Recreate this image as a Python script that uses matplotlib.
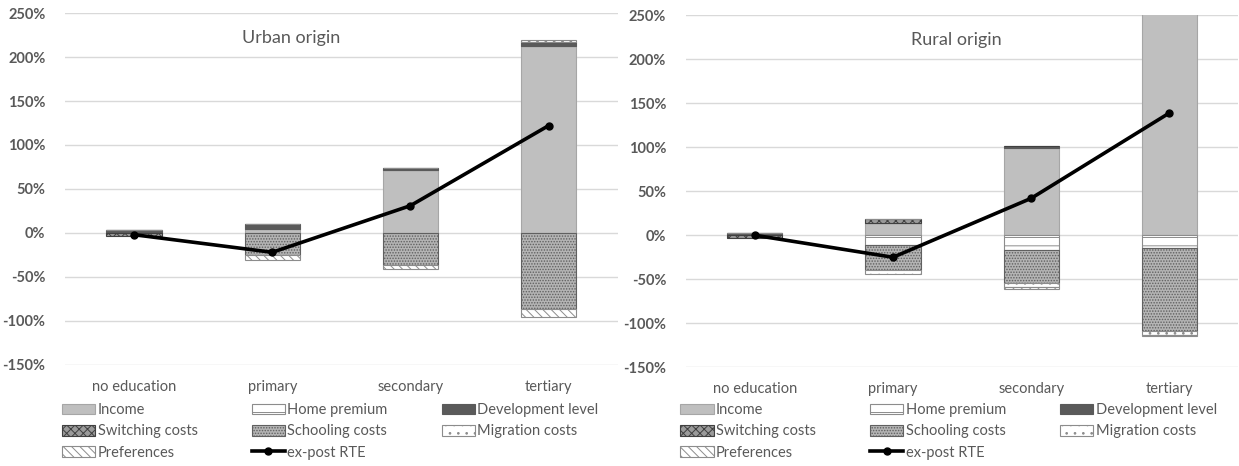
import numpy as np
import matplotlib.pyplot as plt
from matplotlib.lines import Line2D
from matplotlib.patches import Patch

plt.rcParams['font.family'] = ['Lato', 'DejaVu Sans']
plt.rcParams['hatch.linewidth'] = 0.7

categories = ['no education', 'primary', 'secondary', 'tertiary']
components = ['Income', 'Home premium', 'Development level', 'Switching costs',
              'Schooling costs', 'Migration costs', 'Preferences']

# decomposition of returns, in percent
urban = {
    'Income':            [0, 5, 72, 213],
    'Home premium':      [0, 0, 0, 0],
    'Development level': [3, 5, 2, 4],
    'Switching costs':   [-4, 0, 0, 0],
    'Schooling costs':   [0, -25, -36, -87],
    'Migration costs':   [0, 0, 0, 2],
    'Preferences':       [0, -6, -5, -9],
}
urban_rte = [-2, -22, 31, 122]

rural = {
    'Income':            [0, 14, 99, 255],
    'Home premium':      [0, -11, -17, -15],
    'Development level': [3, 0, 3, 0],
    'Switching costs':   [-3, 5, 0, 0],
    'Schooling costs':   [0, -28, -37, -94],
    'Migration costs':   [0, -5, -5, -4],
    'Preferences':       [0, 0, -2, -2],
}
rural_rte = [0, -25, 42, 139]

styles = {
    'Income':            dict(facecolor='#bfbfbf', edgecolor='#a6a6a6', hatch=None),
    'Home premium':      dict(facecolor='white', edgecolor='#8c8c8c', hatch='--'),
    'Development level': dict(facecolor='#5a5a5a', edgecolor='#5a5a5a', hatch=None),
    'Switching costs':   dict(facecolor='#9a9a9a', edgecolor='#404040', hatch='xxxx'),
    'Schooling costs':   dict(facecolor='#b4b4b4', edgecolor='#606060', hatch='......'),
    'Migration costs':   dict(facecolor='white', edgecolor='#8c8c8c', hatch='..'),
    'Preferences':       dict(facecolor='white', edgecolor='#8c8c8c', hatch='\\\\\\\\'),
}

grey = '#595959'


def draw_panel(ax, data, rte, title, title_x):
    x = np.arange(len(categories))
    pos = np.zeros(len(categories))
    neg = np.zeros(len(categories))
    for comp in components:
        vals = np.array(data[comp], dtype=float)
        bottom = np.where(vals >= 0, pos, neg)
        ax.bar(x, vals, 0.4, bottom=bottom, linewidth=0.8, zorder=2, **styles[comp])
        pos += np.clip(vals, 0, None)
        neg += np.clip(vals, None, 0)
    ax.plot(x, rte, color='black', linewidth=2.6, marker='o', markersize=5, zorder=3)

    ax.set_xlim(-0.5, 3.5)
    ax.set_ylim(-150, 250)
    ax.set_yticks(np.arange(-150, 251, 50))
    ax.set_yticklabels([f'{v}%' for v in range(-150, 251, 50)], color=grey,
                       fontsize=10.5, fontweight='bold')
    ax.set_xticks(x)
    ax.set_xticklabels(categories, color=grey, fontsize=10.5)
    ax.tick_params(axis='both', length=0)
    ax.tick_params(axis='x', pad=11)
    ax.tick_params(axis='y', pad=14)
    ax.grid(axis='y', color='#d9d9d9', linewidth=1)
    ax.set_axisbelow(True)
    for s in ax.spines.values():
        s.set_visible(False)
    ax.text(title_x, 0.93, title, transform=ax.transAxes, ha='center', va='center',
            fontsize=13, color=grey)


fig = plt.figure(figsize=(12.39, 4.66), dpi=100)
ax1 = fig.add_axes([0.0525, 0.217, 0.446, 0.755])
ax2 = fig.add_axes([0.5535, 0.212, 0.446, 0.755])

draw_panel(ax1, urban, urban_rte, 'Urban origin', 0.41)
draw_panel(ax2, rural, rural_rte, 'Rural origin', 0.49)

handles = {c: Patch(linewidth=0.8, **styles[c]) for c in components}
handles['ex-post RTE'] = Line2D([], [], color='black', linewidth=2.6, marker='o', markersize=5)
order = ['Income', 'Switching costs', 'Preferences',
         'Home premium', 'Schooling costs', 'ex-post RTE',
         'Development level', 'Migration costs']

for ax, x0 in [(ax1, 0.050), (ax2, 0.549)]:
    fig.legend([handles[k] for k in order], order, loc='upper left',
               bbox_to_anchor=(x0, 0.135), ncol=3, frameon=False,
               fontsize=10.5, labelcolor=grey, handlelength=2.3, handleheight=0.75,
               handletextpad=0.15, columnspacing=3.7, labelspacing=0.5,
               borderaxespad=0, borderpad=0)

fig.savefig('out.png', dpi=100)
